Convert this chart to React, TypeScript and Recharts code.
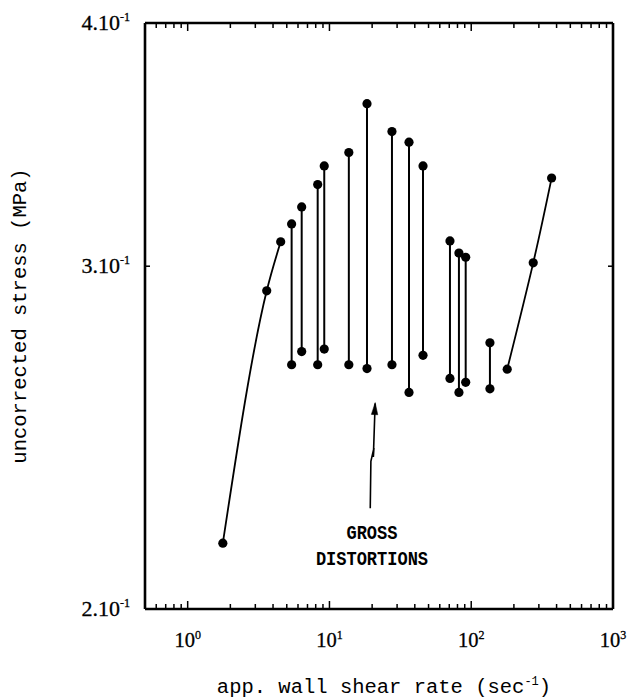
import React from 'react';
import { ComposedChart, Line, XAxis, YAxis, Scatter } from 'recharts';

// ---- data ----
const xMajorTicks = [1, 10, 100, 1000];
const xMajorLabels = ['10', '10', '10', '10'];
const xMajorExps = ['0', '1', '2', '3'];
const xMinorTicks = [
  0.6, 0.7, 0.8, 0.9,
  2, 3, 4, 5, 6, 7, 8, 9,
  20, 30, 40, 50, 60, 70, 80, 90,
  200, 300, 400, 500, 600, 700, 800, 900,
];
const yTicks = [0.2, 0.3, 0.4];
const yTickLabels = ['2.10', '3.10', '4.10'];
const yTickExps = ['-1', '-1', '-1'];
const yInnerTicks = [0.3];

const leftCurve = [
  { x: 1.77, y: 0.2162 },
  { x: 3.61, y: 0.2914 },
  { x: 4.53, y: 0.3088 },
];
const rightCurve = [
  { x: 179.4, y: 0.2656 },
  { x: 273.7, y: 0.3012 },
  { x: 369, y: 0.333 },
];
const pairX = [5.41, 6.37, 8.26, 9.19, 13.7, 18.4, 27.6, 36.4, 45.7, 70.8, 81.9, 91.4, 135.5];
const pairLow = [0.267, 0.2712, 0.267, 0.272, 0.267, 0.2658, 0.267, 0.2584, 0.27, 0.2627, 0.2584, 0.2615, 0.2595];
const pairHigh = [0.3154, 0.3218, 0.3304, 0.3378, 0.3432, 0.3636, 0.3518, 0.3474, 0.3378, 0.3091, 0.3047, 0.3032, 0.274];

const arrowPath = [
  { x: 19.4, y: 0.2253 },
  { x: 19.6, y: 0.2382 },
  { x: 20.6, y: 0.242 },
  { x: 20.4, y: 0.2394 },
  { x: 21.0, y: 0.255 },
];
const arrowTip = [{ x: 21.0, y: 0.255 }];
const noteAnchor = [{ x: 19.95, y: 0.2186 }];
const noteLines = ['GROSS', 'DISTORTIONS'];

const xTitle = 'app. wall shear rate (sec';
const xTitleExp = '-1';
const yTitle = 'uncorrected stress (MPa)';

const xAllTicks = [...xMajorTicks, ...xMinorTicks].sort((a, b) => a - b);

// ---- styles ----
const W = 632;
const H = 700;
const MARGIN = { top: 23, right: 19, bottom: 91, left: 145 };
const INK = '#000';
const MONO = '"Liberation Mono", "DejaVu Sans Mono", monospace';
const SERIF = '"Liberation Serif", "DejaVu Serif", serif';
const frame = { stroke: INK, strokeWidth: 2.6 };
const dotStyle = { r: 4.6, fill: INK, stroke: INK, strokeWidth: 0 };
const MAJOR_LEN = 8;
const MINOR_LEN = 5;
const Y_TICK_LEN = 5;

const BottomTick = (props: any) => {
  const { x, y, payload } = props;
  const v = payload?.value;
  const mi = xMajorTicks.indexOf(v);
  const len = mi >= 0 ? MAJOR_LEN : MINOR_LEN;
  return (
    <g>
      <line x1={x} x2={x} y1={y} y2={y - len} stroke={INK} strokeWidth={1.5} />
      {mi >= 0 && (
        <text x={x} y={y + 38} textAnchor="middle" fontFamily={SERIF} fontSize={20.5} fill={INK} stroke={INK} strokeWidth={0.3}>
          {xMajorLabels[mi]}
          <tspan dy={-8} fontSize={12}>{xMajorExps[mi]}</tspan>
        </text>
      )}
    </g>
  );
};

const TopTick = (props: any) => {
  const { x, y, payload } = props;
  const v = payload?.value;
  const len = xMajorTicks.indexOf(v) >= 0 ? MAJOR_LEN : MINOR_LEN;
  return <line x1={x} x2={x} y1={y} y2={y + len} stroke={INK} strokeWidth={1.5} />;
};

const LeftTick = (props: any) => {
  const { x, y, payload } = props;
  const v = payload?.value;
  const i = yTicks.indexOf(v);
  return (
    <g>
      {yInnerTicks.indexOf(v) >= 0 && (
        <line x1={x} x2={x + Y_TICK_LEN} y1={y} y2={y} stroke={INK} strokeWidth={1.5} />
      )}
      {i >= 0 && (
        <text x={x - 15} y={y + 7} textAnchor="end" fontFamily={SERIF} fontSize={22} fill={INK} stroke={INK} strokeWidth={0.3}>
          {yTickLabels[i]}
          <tspan dy={-9} fontSize={12}>{yTickExps[i]}</tspan>
        </text>
      )}
    </g>
  );
};

const RightTick = (props: any) => {
  const { x, y, payload } = props;
  const v = payload?.value;
  if (yInnerTicks.indexOf(v) < 0) return <g />;
  return <line x1={x} x2={x - Y_TICK_LEN} y1={y} y2={y} stroke={INK} strokeWidth={1.5} />;
};

const XTitle = (props: any) => {
  const vb = props.viewBox || {};
  const cx = (vb.x ?? 0) + (vb.width ?? 0) / 2 + 5;
  const cy = (vb.y ?? 0) + (vb.height ?? 0) + 84;
  return (
    <text x={cx} y={cy} textAnchor="middle" fontFamily={MONO} fontSize={20.5} fill={INK}>
      {xTitle}
      <tspan dy={-8} fontSize={12}>{xTitleExp}</tspan>
      <tspan dy={8}>)</tspan>
    </text>
  );
};

const YTitle = (props: any) => {
  const vb = props.viewBox || {};
  const cx = (vb.x ?? 0) - 125;
  const cy = (vb.y ?? 0) + (vb.height ?? 0) / 2;
  return (
    <text
      x={cx}
      y={cy}
      transform={`rotate(-90 ${cx} ${cy})`}
      textAnchor="middle"
      dominantBaseline="central"
      fontFamily={MONO}
      fontSize={20.5}
      fill={INK}
    >
      {yTitle}
    </text>
  );
};

const ArrowHead = (props: any) => {
  const { cx, cy } = props;
  if (cx == null || cy == null) return <g />;
  return (
    <path
      d={`M ${cx} ${cy - 1} L ${cx - 3.2} ${cy + 11} L ${cx + 3.2} ${cy + 11} Z`}
      transform={`rotate(3 ${cx} ${cy})`}
      fill={INK}
      stroke={INK}
      strokeWidth={0.5}
    />
  );
};

const Note = (props: any) => {
  const { cx, cy } = props;
  if (cx == null || cy == null) return <g />;
  return (
    <g>
      {noteLines.map((t, i) => {
        const ty = cy + i * 26;
        return (
          <text
            key={t}
            x={cx}
            y={ty}
            transform={`translate(0 ${ty}) scale(1 1.22) translate(0 ${-ty})`}
            textAnchor="middle"
            dominantBaseline="central"
            fontFamily={MONO}
            fontWeight="bold"
            fontSize={17}
            fill={INK}
          >
            {t}
          </text>
        );
      })}
    </g>
  );
};

const xCommon = {
  type: 'number' as const,
  dataKey: 'x',
  scale: 'log' as const,
  domain: [0.5, 1000] as [number, number],
  allowDataOverflow: true,
  mirror: true,
  height: 30,
  interval: 0 as const,
  tickSize: 0,
  tickMargin: 0,
  tickLine: false,
  axisLine: frame,
};
const yCommon = {
  type: 'number' as const,
  dataKey: 'y',
  scale: 'log' as const,
  domain: [0.2, 0.4] as [number, number],
  allowDataOverflow: true,
  mirror: true,
  width: 60,
  interval: 0 as const,
  tickSize: 0,
  tickMargin: 0,
  tickLine: false,
  axisLine: frame,
};

export default function App() {
  return (
    <div style={{ position: 'absolute', left: 0, top: 0, width: W, height: H }}>
      <ComposedChart width={W} height={H} margin={MARGIN}>
        <XAxis
          xAxisId="b"
          {...xCommon}
          orientation="bottom"
          ticks={xAllTicks}
          tick={<BottomTick />}
          label={{ content: (p: any) => <XTitle viewBox={p.viewBox} /> }}
        />
        <XAxis xAxisId="t" {...xCommon} orientation="top" ticks={xAllTicks} tick={<TopTick />} />
        <YAxis
          yAxisId="l"
          {...yCommon}
          orientation="left"
          ticks={yTicks}
          tick={<LeftTick />}
          label={{ content: (p: any) => <YTitle viewBox={p.viewBox} /> }}
        />
        <YAxis yAxisId="r" {...yCommon} orientation="right" ticks={yInnerTicks} tick={<RightTick />} />

        <Line xAxisId="b" yAxisId="l" data={leftCurve} dataKey="y" type="monotone" stroke={INK} strokeWidth={1.8} dot={dotStyle} isAnimationActive={false} />
        <Line xAxisId="b" yAxisId="l" data={rightCurve} dataKey="y" type="natural" stroke={INK} strokeWidth={1.8} dot={dotStyle} isAnimationActive={false} />
        {pairX.map((px, i) => (
          <Line
            key={`pair-${i}`}
            xAxisId="b"
            yAxisId="l"
            data={[
              { x: px, y: pairLow[i] },
              { x: px, y: pairHigh[i] },
            ]}
            dataKey="y"
            type="linear"
            stroke={INK}
            strokeWidth={2}
            dot={dotStyle}
            isAnimationActive={false}
          />
        ))}
        <Line xAxisId="b" yAxisId="l" data={arrowPath} dataKey="y" type="linear" stroke={INK} strokeWidth={1.6} dot={false} isAnimationActive={false} />
        <Scatter xAxisId="b" yAxisId="l" data={arrowTip} dataKey="y" shape={<ArrowHead />} isAnimationActive={false} />
        <Scatter xAxisId="b" yAxisId="l" data={noteAnchor} dataKey="y" shape={<Note />} isAnimationActive={false} />
      </ComposedChart>
    </div>
  );
}
